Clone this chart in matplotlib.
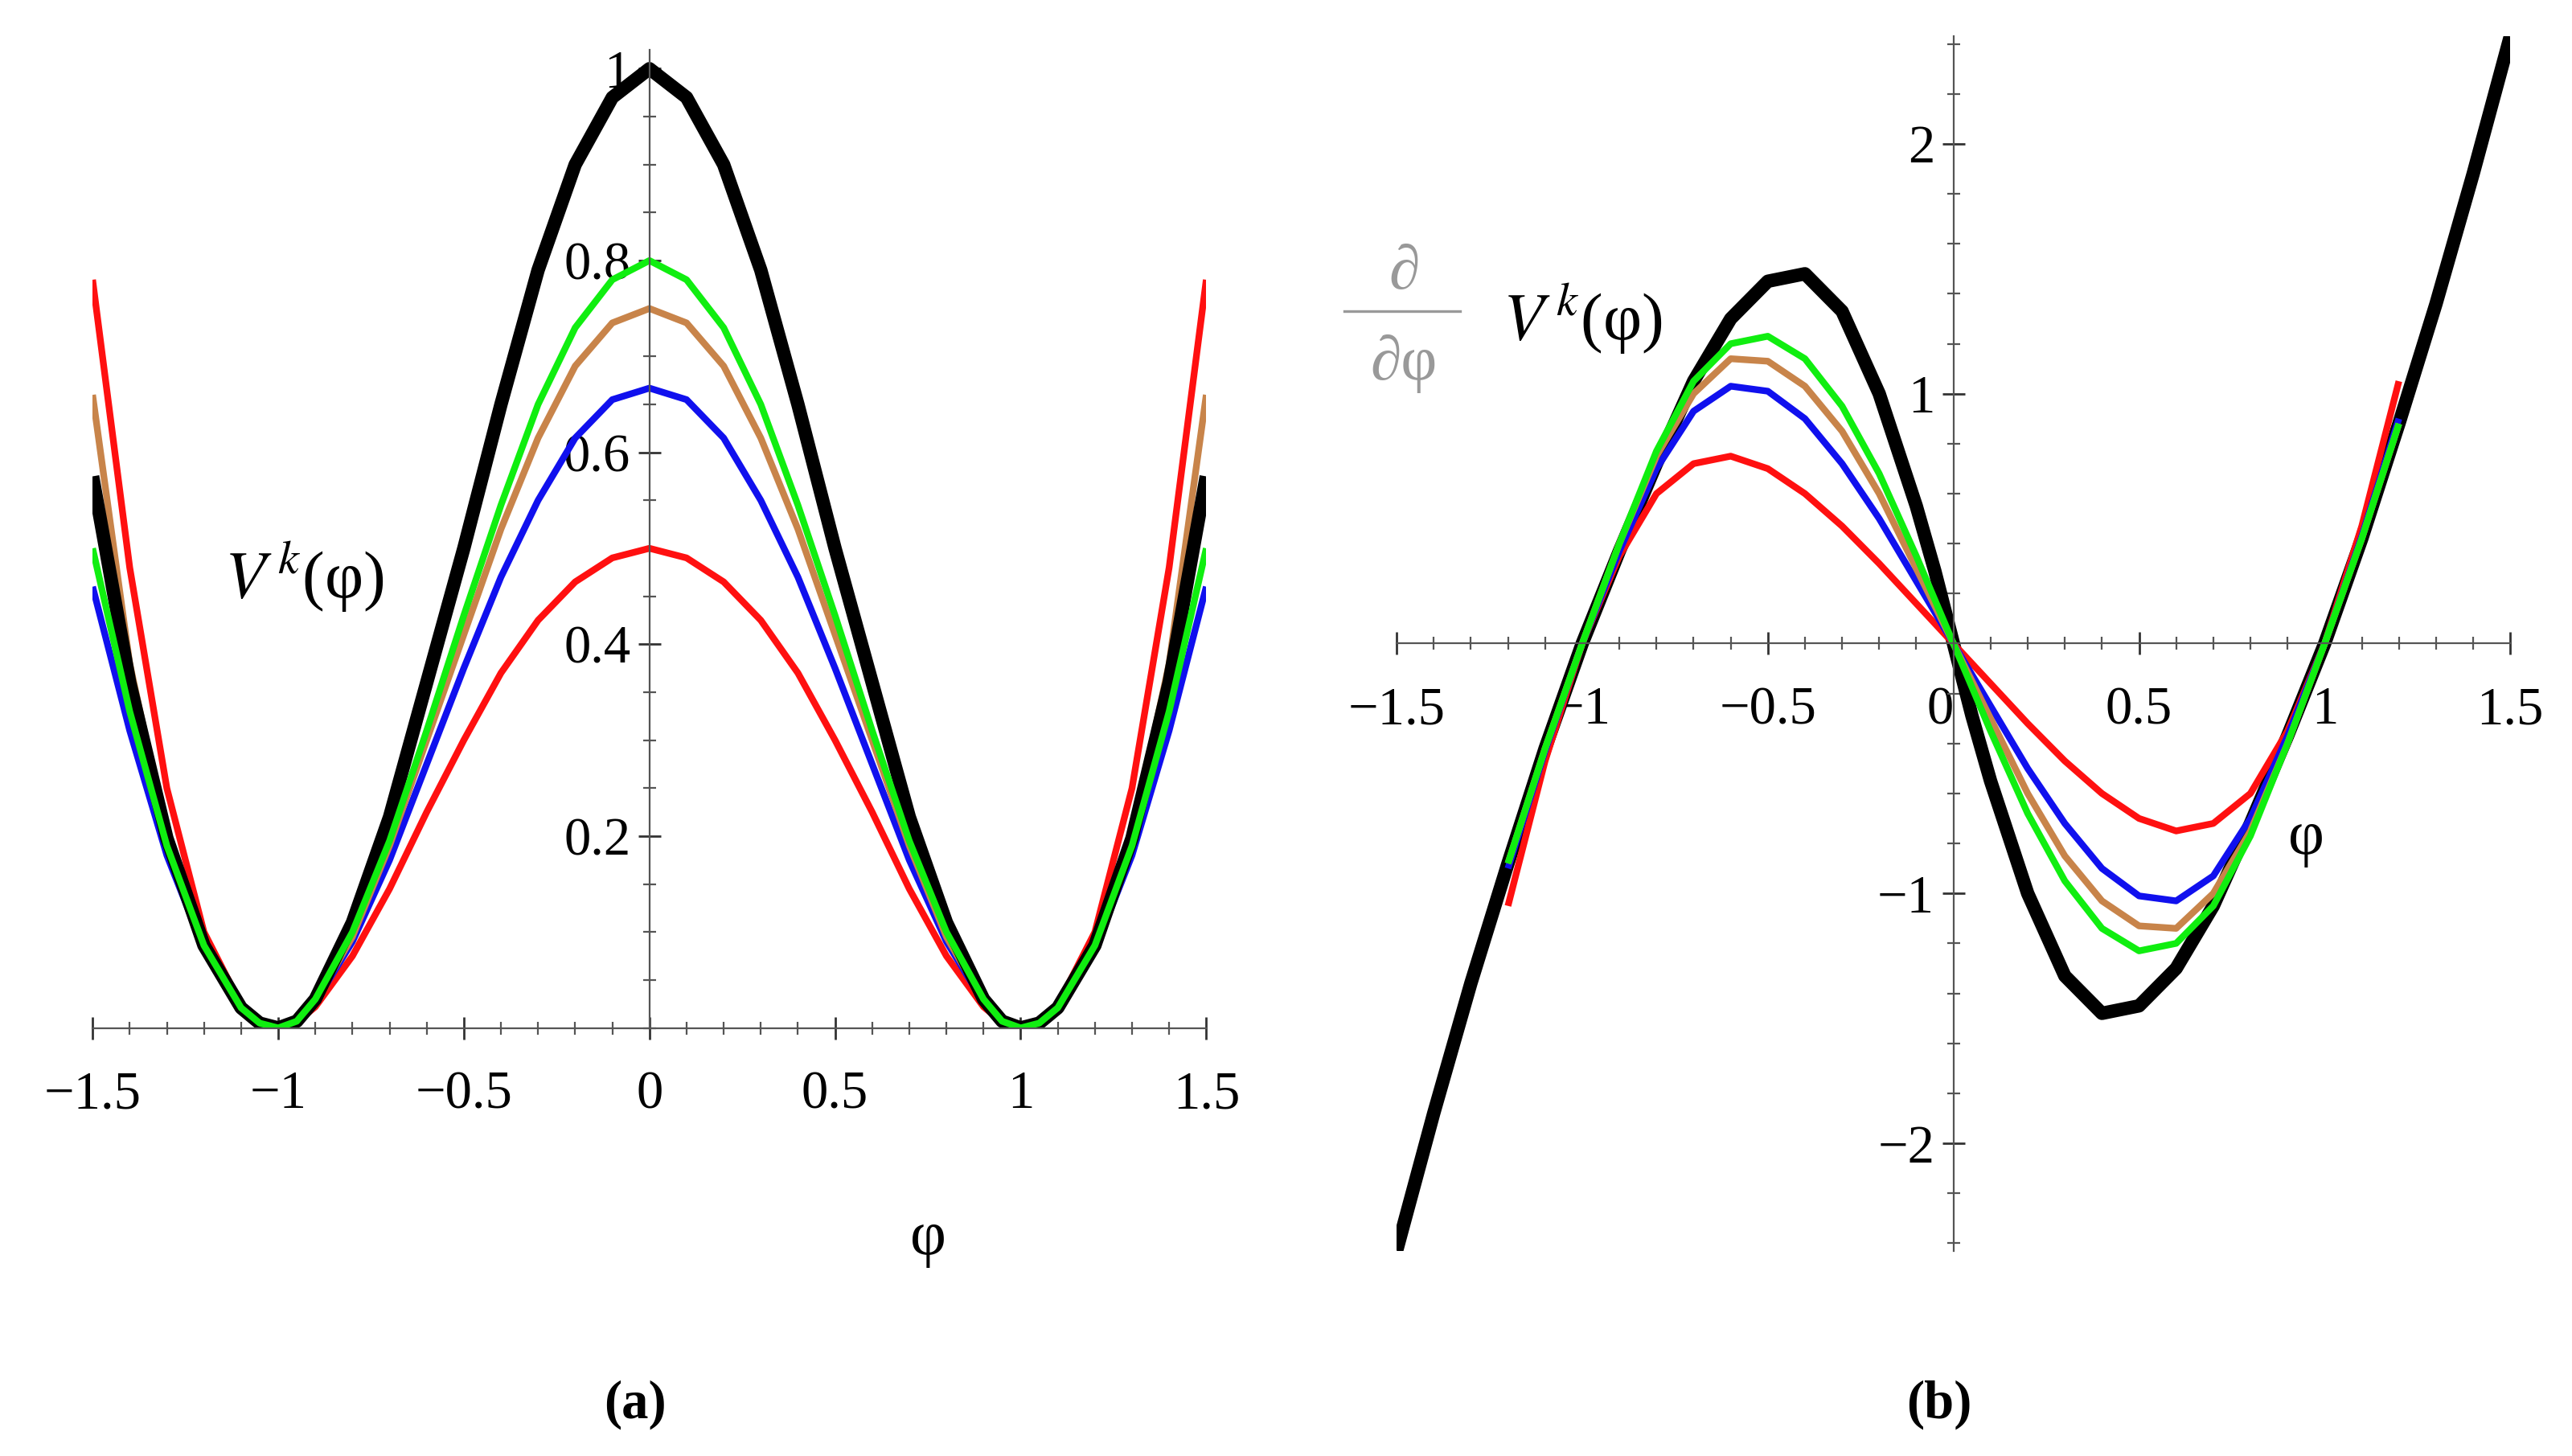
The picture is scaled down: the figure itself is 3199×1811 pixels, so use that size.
import matplotlib
matplotlib.use("Agg")
import matplotlib.pyplot as plt
from matplotlib.ticker import MultipleLocator

plt.rcParams['font.family'] = ['Liberation Serif', 'DejaVu Serif']
plt.rcParams['mathtext.fontset'] = 'stix'

# ---- data ----
phi_pos_a = [0.0,0.1,0.2,0.3,0.4,0.5,0.6,0.7,0.8,0.9,0.95,1.0,1.05,1.1,1.2,1.3,1.4,1.5]
V_black  = [1.0,0.97,0.9,0.79,0.65,0.50,0.36,0.22,0.11,0.03,0.007,0.0,0.005,0.021,0.086,0.198,0.36,0.575]
V_green  = [0.8,0.78,0.73,0.65,0.545,0.43,0.31,0.195,0.10,0.03,0.007,0.0,0.005,0.021,0.086,0.19,0.33,0.50]
V_orange = [0.75,0.735,0.69,0.615,0.52,0.41,0.30,0.19,0.095,0.028,0.007,0.0,0.005,0.021,0.087,0.20,0.38,0.66]
V_blue   = [0.667,0.655,0.615,0.55,0.47,0.375,0.275,0.175,0.09,0.027,0.007,0.0,0.005,0.02,0.082,0.18,0.31,0.46]
V_red    = [0.5,0.49,0.465,0.425,0.37,0.30,0.225,0.145,0.075,0.022,0.006,0.0,0.006,0.024,0.10,0.25,0.48,0.78]

phi_pos_b = [0.0,0.05,0.1,0.2,0.3,0.4,0.5,0.6,0.7,0.8,0.9,1.0,1.1,1.2,1.3,1.4,1.5]
dV_black  = [0,-0.29,-0.55,-1.0,-1.33,-1.48,-1.45,-1.3,-1.05,-0.72,-0.37,0,0.42,0.88,1.36,1.88,2.43]
phi_pos_b2 = [0.0,0.1,0.2,0.3,0.4,0.5,0.6,0.7,0.8,0.9,1.0,1.1,1.2]
dV_red    = [0,-0.16,-0.32,-0.47,-0.6,-0.7,-0.75,-0.72,-0.6,-0.35,0,0.47,1.05]
dV_blue   = [0,-0.25,-0.5,-0.72,-0.9,-1.01,-1.03,-0.93,-0.7,-0.37,0,0.43,0.9]
dV_orange = [0,-0.3,-0.6,-0.85,-1.03,-1.13,-1.14,-1.0,-0.75,-0.4,0,0.42,0.88]
dV_green  = [0,-0.35,-0.68,-0.95,-1.14,-1.23,-1.2,-1.05,-0.77,-0.4,0,0.42,0.88]

colors = {'black':'#000000','red':'#ff1010','orange':'#c8844a','blue':'#1010ee','green':'#10ee10'}

def even(xs, ys):
    return [-x for x in xs[::-1]] + xs[1:], ys[::-1] + ys[1:]
def odd(xs, ys):
    return [-x for x in xs[::-1]] + xs[1:], [-y for y in ys[::-1]] + ys[1:]

fig = plt.figure(figsize=(15.995, 9.055), dpi=200)
ax1 = fig.add_axes([0.036, 0.294, 0.433, 0.672])
ax2 = fig.add_axes([0.543, 0.141, 0.433, 0.834])

def style(ax):
    for s in ['top', 'right']:
        ax.spines[s].set_visible(False)
    ax.spines['left'].set_position(('data', 0))
    ax.spines['bottom'].set_position(('data', 0))
    ax.spines['left'].set_color('#555555')
    ax.spines['bottom'].set_color('#555555')
    ax.tick_params(direction='inout', length=10, width=1, labelsize=24, colors='#333333')
    ax.tick_params(which='minor', direction='inout', length=6, width=0.8, colors='#555555')
    for lab in ax.get_xticklabels() + ax.get_yticklabels():
        lab.set_color('black')

# panel (a)
for ys, c, lw in [(V_red,'red',3),(V_blue,'blue',3),(V_orange,'orange',3),(V_black,'black',6),(V_green,'green',3)]:
    x, y = even(phi_pos_a, ys)
    ax1.plot(x, y, color=colors[c], lw=lw, solid_capstyle='butt', solid_joinstyle='round')
ax1.set_xlim(-1.5, 1.5)
ax1.set_ylim(0, 1.02)
ax1.set_xticks([-1.5,-1,-0.5,0,0.5,1,1.5])
ax1.set_xticklabels(['\u22121.5','\u22121','\u22120.5','0','0.5','1','1.5'])
ax1.set_yticks([0.2,0.4,0.6,0.8,1.0])
ax1.set_yticklabels(['0.2','0.4','0.6','0.8','1'])
ax1.xaxis.set_minor_locator(MultipleLocator(0.1))
ax1.yaxis.set_minor_locator(MultipleLocator(0.05))
style(ax1)
ax1.tick_params(axis='x', pad=14)
ax1.text(0.75, -0.22, 'φ', fontsize=28, ha='center', va='center')
ax1.text(-0.93, 0.47, r'$V^{\,k}$(φ)', fontsize=30, ha='center', va='center')

# panel (b)
for xs, ys, c, lw in [(phi_pos_b, dV_black,'black',6),(phi_pos_b2, dV_red,'red',3),(phi_pos_b2, dV_blue,'blue',3),
                      (phi_pos_b2, dV_orange,'orange',3),(phi_pos_b2, dV_green,'green',3)]:
    x, y = odd(xs, ys)
    ax2.plot(x, y, color=colors[c], lw=lw, solid_capstyle='butt', solid_joinstyle='round')
ax2.set_xlim(-1.5, 1.5)
ax2.set_ylim(-2.43, 2.43)
ax2.set_xticks([-1.5,-1,-0.5,0,0.5,1,1.5])
ax2.set_xticklabels(['\u22121.5','\u22121','\u22120.5','0','0.5','1','1.5'])
ax2.set_yticks([-2,-1,1,2])
ax2.set_yticklabels(['\u22122','\u22121','1','2'])
ax2.xaxis.set_minor_locator(MultipleLocator(0.1))
ax2.yaxis.set_minor_locator(MultipleLocator(0.2))
style(ax2)
ax2.tick_params(axis='x', pad=14)
for lab in ax2.get_xticklabels():
    if lab.get_text() == '0':
        lab.set_horizontalalignment('right')
ax2.text(0.95, -0.78, 'φ', fontsize=28, ha='center', va='center')
ax2.text(-1.48, 1.48, '∂', fontsize=28, color='#999999', ha='center', va='center', clip_on=False)
ax2.plot([-1.64, -1.33], [1.33, 1.33], color='#999999', lw=1.2, clip_on=False)
ax2.text(-1.48, 1.12, '∂φ', fontsize=28, color='#999999', ha='center', va='center', clip_on=False)
ax2.text(-1.0, 1.3, r'$V^{\,k}$(φ)', fontsize=30, ha='center', va='center')

fig.text(0.247, 0.035, '(a)', fontsize=24, ha='center', va='center', fontweight='bold')
fig.text(0.754, 0.035, '(b)', fontsize=24, ha='center', va='center', fontweight='bold')

fig.savefig('out.png', dpi=200)
